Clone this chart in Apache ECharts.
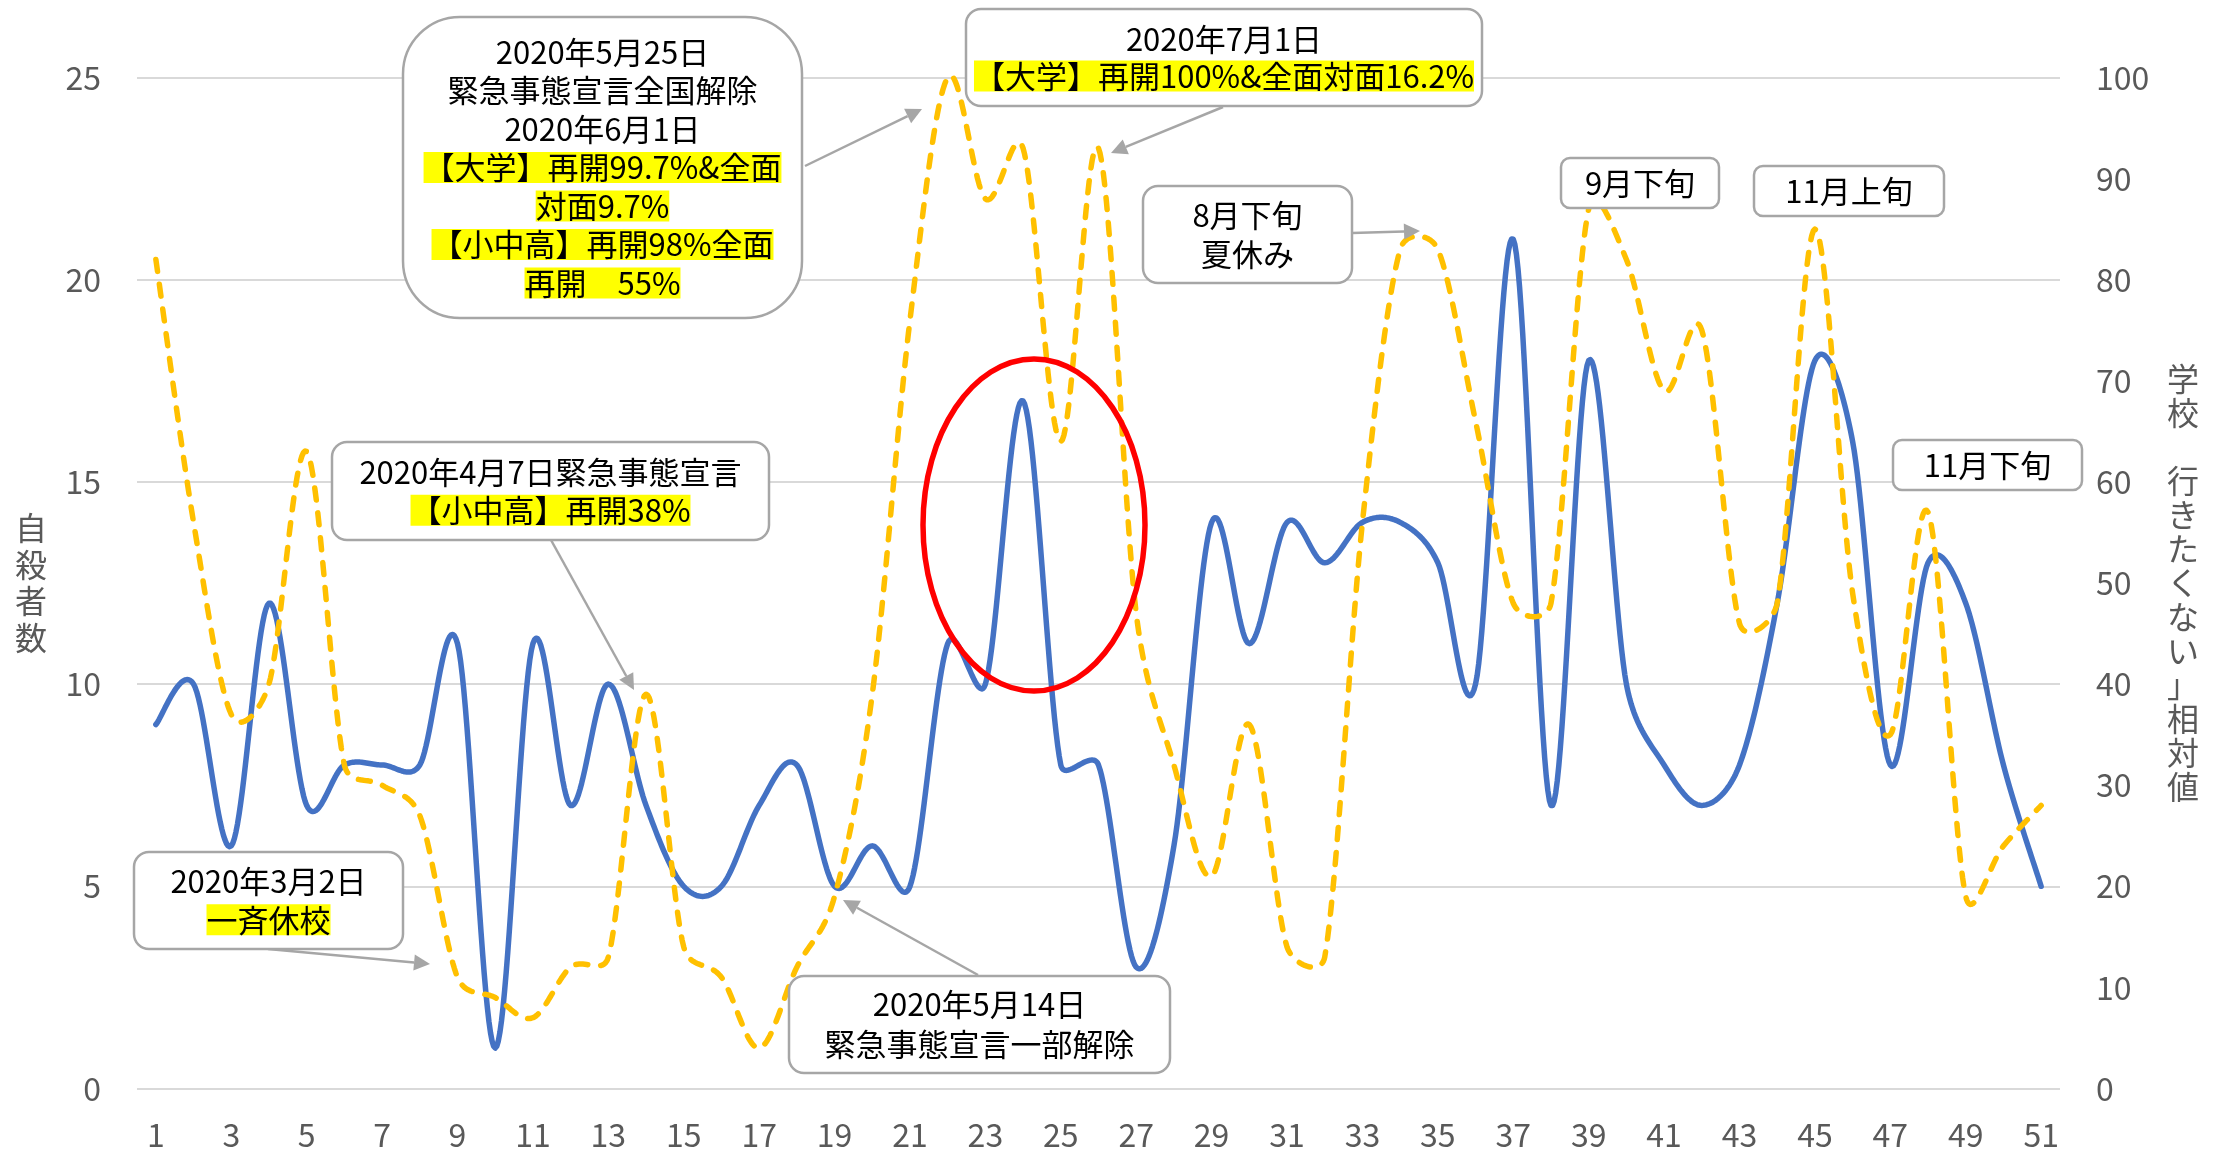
<!DOCTYPE html>
<html>
<head>
<meta charset="utf-8">
<title>自殺者数と学校「行きたくない」相対値</title>
<script src="https://cdn.jsdelivr.net/npm/echarts@6/dist/echarts.min.js"></script>
<style>
html,body{margin:0;padding:0;background:#fff;}
#chart{width:2215px;height:1151px;}
</style>
</head>
<body>
<div id="chart"></div>
<script>
// 週番号
var weeks = ['1','2','3','4','5','6','7','8','9','10','11','12','13','14','15','16','17','18','19','20',
    '21','22','23','24','25','26','27','28','29','30','31','32','33','34','35','36','37','38','39','40',
    '41','42','43','44','45','46','47','48','49','50','51'];
// 自殺者数 (左軸)
var suicides = [9,10,6,12,7,8,8,8,11,1,11,7,10,7,5,5,7,8,5,6,
    5,11,10,17,8,8,3,6,14,11,14,13,14,14,13,10,21,7,18,10,
    8,7,8,12,18,16,8,13,12,8,5];
// 学校「行きたくない」相対値 (右軸)
var notWantSchool = [82,56,37,40,63,32,30,27,11,9,7,12,13,39,14,11,4,12,19,39,
    76,100,88,93,64,93,47,32,21,36,14,13,56,83,83,66,48,48,87,82,
    69,75,46,48,85,49,35,57,19,24,28];
var leftTicks = {min:0, max:25, step:5};
var rightTicks = {min:0, max:100, step:10};

var FONT = '"Noto Sans CJK JP", "Noto Sans", sans-serif';
var NOTE_FONT = '31px "Noto Sans CJK JP"';
var GRAY = '#A6A6A6';

// 吹き出し枠 + 文字
function noteBox(x, y, w, h, r, lines, lh){
    return [
        {type:'rect', z:100, shape:{x:x, y:y, width:w, height:h, r:r},
            style:{fill:'#fff', stroke:GRAY, lineWidth:2.5}},
        {type:'text', z:101, x:x + w / 2, y:y + h / 2,
            style:{text:lines.join('\n'), font:NOTE_FONT, fill:'#000',
                align:'center', verticalAlign:'middle', lineHeight:lh,
                rich:{h:{font:NOTE_FONT, backgroundColor:'#FFFF00', lineHeight:lh}}}}
    ];
}

// 矢印
function arrow(x1, y1, x2, y2){
    var ang = Math.atan2(y2 - y1, x2 - x1);
    var len = 16, half = 8;
    var bx = x2 - len * Math.cos(ang), by = y2 - len * Math.sin(ang);
    return [
        {type:'line', z:99, shape:{x1:x1, y1:y1, x2:bx, y2:by}, style:{stroke:GRAY, lineWidth:2.5}},
        {type:'polygon', z:99, shape:{points:[[x2, y2],
            [bx + half * Math.sin(ang), by - half * Math.cos(ang)],
            [bx - half * Math.sin(ang), by + half * Math.cos(ang)]]},
            style:{fill:GRAY}}
    ];
}

function dist(a, b){
    return Math.sqrt((a[0] - b[0]) * (a[0] - b[0]) + (a[1] - b[1]) * (a[1] - b[1]));
}

// Excel風の平滑線 : 制御点は (次-前)/6、ただし区間長の半分まで
function smoothRenderer(lineStyle){
    return function(params, api){
        if(params.dataIndex !== 0){
            return null;
        }
        var n = params.dataInsideLength;
        var pts = [];
        for(var j = 0; j < n; j++){
            pts.push(api.coord([api.value(0, j), api.value(1, j)]));
        }
        var out = [pts[0]];
        for(var i = 0; i < n - 1; i++){
            var p0 = pts[i - 1] || pts[i], p1 = pts[i], p2 = pts[i + 1], p3 = pts[i + 2] || pts[i + 1];
            var d12 = dist(p1, p2), d02 = dist(p0, p2), d13 = dist(p1, p3);
            var f1 = 1 / 6, f2 = 1 / 6;
            if(!(d02 / 6 < d12 / 2 && d13 / 6 < d12 / 2)){
                if(d02 / 6 >= d12 / 2 && d02 > 0){ f1 = d12 / d02 / 2; }
                if(d13 / 6 >= d12 / 2 && d13 > 0){ f2 = d12 / d13 / 2; }
            }
            var c1 = [p1[0] + (p2[0] - p0[0]) * f1, p1[1] + (p2[1] - p0[1]) * f1];
            var c2 = [p2[0] - (p3[0] - p1[0]) * f2, p2[1] - (p3[1] - p1[1]) * f2];
            for(var s = 1; s <= 24; s++){
                var t = s / 24, u = 1 - t;
                out.push([
                    u*u*u*p1[0] + 3*u*u*t*c1[0] + 3*u*t*t*c2[0] + t*t*t*p2[0],
                    u*u*u*p1[1] + 3*u*u*t*c1[1] + 3*u*t*t*c2[1] + t*t*t*p2[1]
                ]);
            }
        }
        return {type:'polyline', silent:true, shape:{points:out}, style:lineStyle};
    };
}

function pairs(values){
    return values.map(function(v, i){ return [i, v]; });
}

var notes = [].concat(
    noteBox(403, 17, 399, 301, 57, ['2020年5月25日','緊急事態宣言全国解除','2020年6月1日',
        '{h|【大学】再開99.7%&全面}','{h|対面9.7%}','{h|【小中高】再開98%全面}','{h|再開　55%}'], 38.5),
    noteBox(966, 9, 516, 97, 15, ['2020年7月1日','{h|【大学】再開100%&全面対面16.2%}'], 37),
    noteBox(1143, 186, 209, 97, 15, ['8月下旬','夏休み'], 39.5),
    noteBox(1561, 158, 158, 50, 9, ['9月下旬'], 38),
    noteBox(1754, 166, 190, 50, 9, ['11月上旬'], 38),
    noteBox(1893, 440, 189, 50, 9, ['11月下旬'], 38),
    noteBox(332, 442, 437, 98, 15, ['2020年4月7日緊急事態宣言','{h|【小中高】再開38%}'], 38.5),
    noteBox(134, 852, 269, 97, 15, ['2020年3月2日','{h|一斉休校}'], 38.5),
    noteBox(789, 976, 381, 97, 15, ['2020年5月14日','緊急事態宣言一部解除'], 40),
    arrow(805, 166, 922, 109),
    arrow(1223, 107, 1111, 153),
    arrow(1352, 233, 1420, 231),
    arrow(551, 540, 634, 690),
    arrow(268, 949, 430, 964),
    arrow(978, 975, 843, 900),
    [{type:'ellipse', z:98, shape:{cx:1034, cy:525, rx:111, ry:166},
        style:{fill:null, stroke:'#FF0000', lineWidth:5.5}}]
);

var chart = echarts.init(document.getElementById('chart'));
var option = {
    backgroundColor:'#fff',
    animation:false,
    grid:{left:137, right:155, top:77.5, bottom:62.5, containLabel:false, outerBoundsMode:'none'},
    xAxis:{
        type:'category',
        data:weeks,
        boundaryGap:true,
        axisLine:{show:false},
        axisTick:{show:false},
        axisLabel:{interval:1, margin:30, color:'#595959', fontSize:32, fontFamily:FONT}
    },
    yAxis:[
        {
            type:'value', min:leftTicks.min, max:leftTicks.max, interval:leftTicks.step,
            name:'自\n殺\n者\n数', nameLocation:'middle', nameRotate:0, nameGap:90,
            nameTextStyle:{color:'#595959', fontSize:32, lineHeight:36.5, fontFamily:FONT},
            axisLine:{show:false}, axisTick:{show:false},
            axisLabel:{margin:36, color:'#595959', fontSize:32, fontFamily:FONT},
            splitLine:{lineStyle:{color:'#D9D9D9', width:2}}
        },
        {
            type:'value', min:rightTicks.min, max:rightTicks.max, interval:rightTicks.step,
            name:'学\n校\n　\n行\nき\nた\nく\nな\nい\n」\n相\n対\n値', nameLocation:'middle', nameRotate:0, nameGap:107,
            nameTextStyle:{color:'#595959', fontSize:32, lineHeight:34, fontFamily:FONT},
            axisLine:{show:false}, axisTick:{show:false},
            axisLabel:{margin:36, color:'#595959', fontSize:32, fontFamily:FONT},
            splitLine:{show:false}
        }
    ],
    series:[
        {
            name:'自殺者数', type:'custom', yAxisIndex:0, data:pairs(suicides),
            encode:{x:0, y:1}, z:2,
            renderItem:smoothRenderer({fill:null, stroke:'#4472C4', lineWidth:5.5, lineJoin:'round', lineCap:'round'})
        },
        {
            name:'学校「行きたくない」相対値', type:'custom', yAxisIndex:1, data:pairs(notWantSchool),
            encode:{x:0, y:1}, z:3,
            renderItem:smoothRenderer({fill:null, stroke:'#FFC000', lineWidth:5.5, lineDash:[12, 13], lineCap:'round', lineJoin:'round'})
        }
    ],
    graphic:notes
};
chart.setOption(option);
</script>
</body>
</html>
